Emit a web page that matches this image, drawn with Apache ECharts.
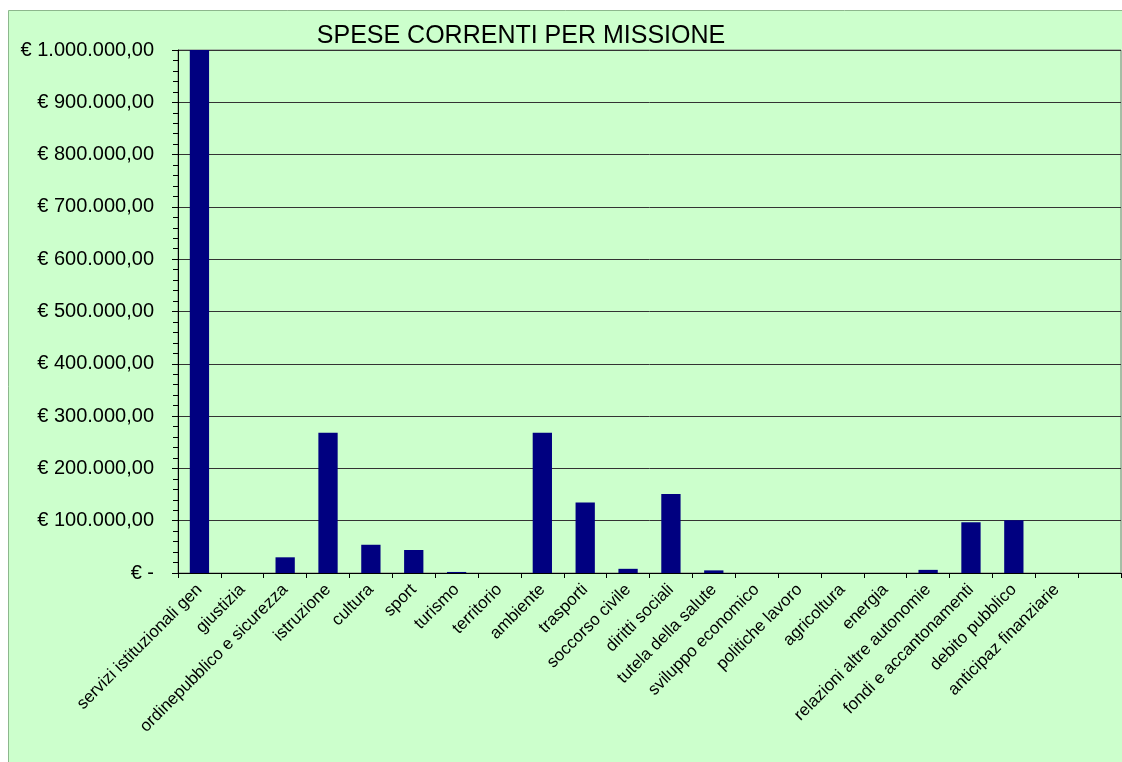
<!DOCTYPE html>
<html>
<head>
<meta charset="utf-8">
<script src="https://cdn.jsdelivr.net/npm/echarts@6/dist/echarts.min.js"></script>
<style>
  html, body { margin: 0; padding: 0; background: #fff; }
  #chart { width: 1122px; height: 762px; }
</style>
</head>
<body>
<div id="chart"></div>
<script>
const titleText = 'SPESE CORRENTI PER MISSIONE';

const categories = [
  'servizi istituzionali gen', 'giustizia', 'ordinepubblico e sicurezza', 'istruzione',
  'cultura', 'sport', 'turismo', 'territorio', 'ambiente', 'trasporti',
  'soccorso civile', 'diritti sociali', 'tutela della salute', 'sviluppo economico',
  'politiche lavoro', 'agricoltura', 'energia', 'relazioni altre autonomie',
  'fondi e accantonamenti', 'debito pubblico', 'anticipaz finanziarie', ''
];

const spese = [
  1000000, 0, 30000, 268000,
  54000, 44000, 2000, 0, 268000, 135000,
  8000, 151000, 5000, 0,
  0, 0, 0, 6000,
  97000, 101000, 0, 0
];

const yMin = 0;
const yMax = 1000000;
const yStep = 100000;

// formato contabile: € 1.000.000,00  /  € -
function euro(v) {
  if (v === 0) return '€ -';
  const parts = v.toFixed(2).split('.');
  const intPart = parts[0].replace(/\B(?=(\d{3})+(?!\d))/g, '.');
  return '€ ' + intPart + ',' + parts[1];
}

const chart = echarts.init(document.getElementById('chart'));

const options = {
  backgroundColor: '#ffffff',
  animation: false,
  textStyle: { fontFamily: 'Liberation Sans, Arial, sans-serif', color: '#000' },
  graphic: [{
    type: 'rect',
    z: -10,
    shape: { x: 8.5, y: 10.5, width: 1130, height: 770 },
    style: { fill: '#CCFFCC', stroke: '#8DB78D', lineWidth: 1 }
  }],
  title: {
    text: titleText,
    left: 516,
    top: 19,
    textAlign: 'center',
    textStyle: { fontSize: 25, fontWeight: 'normal', color: '#000', fontFamily: 'Liberation Sans, Arial, sans-serif' }
  },
  grid: {
    left: 178,
    right: 1,
    top: 50,
    bottom: 189,
    show: true,
    borderColor: '#7f7f7f',
    borderWidth: 1,
    backgroundColor: 'transparent'
  },
  xAxis: {
    type: 'category',
    data: categories,
    axisLine: { lineStyle: { color: '#000', width: 1 } },
    axisTick: { show: true, length: 5, lineStyle: { color: '#000' } },
    axisLabel: {
      interval: 0,
      rotate: 45,
      margin: 14,
      fontSize: 17,
      color: '#000'
    }
  },
  yAxis: {
    type: 'value',
    min: yMin,
    max: yMax,
    interval: yStep,
    axisLine: { show: true, lineStyle: { color: '#000', width: 1 } },
    axisTick: { show: true, length: 6, lineStyle: { color: '#000' } },
    minorTick: { show: true, splitNumber: 5, length: 5, lineStyle: { color: '#000' } },
    splitLine: { show: true, lineStyle: { color: '#333', width: 1 } },
    axisLabel: {
      margin: 24,
      fontSize: 20,
      color: '#000',
      formatter: euro
    }
  },
  series: [{
    type: 'bar',
    data: spese,
    barWidth: '45%',
    itemStyle: { color: '#000080' }
  }]
};

chart.setOption(options);
</script>
</body>
</html>
